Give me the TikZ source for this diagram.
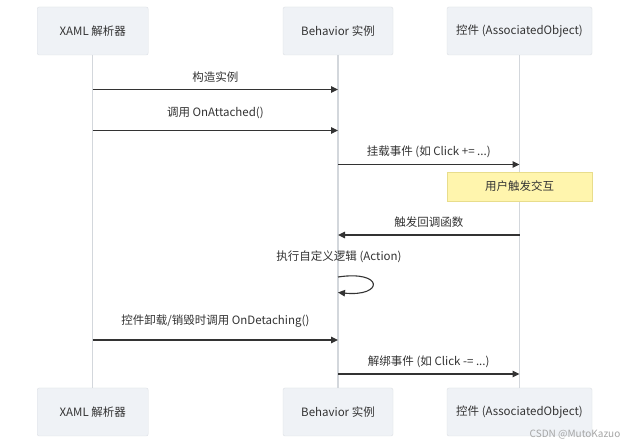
\documentclass[tikz,border=0pt]{standalone}
\usepackage{fontspec}
\usepackage{tikz}
\usetikzlibrary{arrows.meta, positioning, calc}
\setmainfont{Noto Sans CJK SC}
\definecolor{seqbox}{HTML}{EFF2F6}
\definecolor{seqedge}{HTML}{DCE0E5}
\definecolor{seqline}{HTML}{D3D7DC}
\definecolor{seqink}{HTML}{333333}
\definecolor{seqnote}{HTML}{FFF5AD}
\definecolor{seqnoteedge}{HTML}{E8DD8C}

\begin{document}
\begin{tikzpicture}[
    x=1pt, y=-1pt,
    font=\fontsize{11.5}{13}\selectfont,
    actor/.style={rectangle, draw=seqedge, fill=seqbox, rounded corners=2pt, minimum height=48pt, align=center, text=seqink},
    note/.style={rectangle, draw=seqnoteedge, fill=seqnote, minimum width=145pt, minimum height=29pt, text=seqink},
    lifeline/.style={seqline, line width=1.2pt},
    msg/.style={-{Triangle[length=7pt, width=6.5pt]}, seqink, line width=1.1pt},
    lbl/.style={text=seqink, inner sep=0pt, midway}
]
\useasboundingbox[fill=white] (0,0) rectangle (630,446);

% actors, top and bottom
\node[actor, minimum width=111pt] (xaml) at (92.7,31) {XAML 解析器};
\node[actor, minimum width=110pt] (beh) at (338,31) {Behavior 实例};
\node[actor, minimum width=145pt] (ctrl) at (519.5,31) {控件 (AssociatedObject)};
\node[actor, minimum width=111pt] (xamlB) at (92.7,412) {XAML 解析器};
\node[actor, minimum width=110pt] (behB) at (338,412) {Behavior 实例};
\node[actor, minimum width=145pt] (ctrlB) at (519.5,412) {控件 (AssociatedObject)};

% lifelines
\draw[lifeline] (xaml) -- (xamlB);
\draw[lifeline] (beh) -- (behB);
\draw[lifeline] (ctrl) -- (ctrlB);

% message rows
\coordinate (r1) at (0,89.5);
\coordinate (r2) at (0,130.5);
\coordinate (r3) at (0,164.5);
\coordinate (r5) at (0,235);
\coordinate (r7) at (0,340);
\coordinate (r8) at (0,374);

\draw[msg] (xaml |- r1) -- node[lbl, above=7pt] {构造实例} (beh |- r1);
\draw[msg] (xaml |- r2) -- node[lbl, above=11pt] {调用 OnAttached()} (beh |- r2);
\draw[msg] (beh |- r3) -- node[lbl, above=6pt] {挂载事件 (如 Click += ...)} (ctrl |- r3);

\node[note] (tap) at (519.5,186.5) {用户触发交互};

\draw[msg] (ctrl |- r5) -- node[lbl, above=7pt] {触发回调函数} (beh |- r5);

% self call
\node[text=seqink, inner sep=0pt] (act) at (339,257) {执行自定义逻辑 (Action)};
\coordinate (s1) at (338,277);
\coordinate (s2) at (338,292.5);
\draw[msg] (s1) .. controls (384,270) and (384,297) .. (s2);

\draw[msg] (xaml |- r7) -- node[lbl, above=12pt] {控件卸载/销毁时调用 OnDetaching()} (beh |- r7);
\draw[msg] (beh |- r8) -- node[lbl, above=6pt] {解绑事件 (如 Click -= ...)} (ctrl |- r8);

\node[text=black!35, font=\fontsize{10}{12}\selectfont, inner sep=0pt] (wm) at (575,435) {CSDN @MutoKazuo};
\end{tikzpicture}
\end{document}
